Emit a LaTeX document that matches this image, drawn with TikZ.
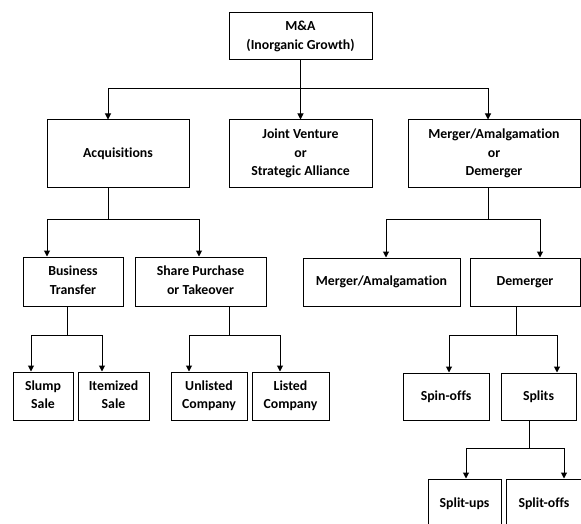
\documentclass[tikz,border=0pt]{standalone}
\usepackage{fontspec}
\setmainfont{Carlito}[Ligatures=NoCommon]
\usetikzlibrary{arrows.meta}

\tikzset{
	orgbox/.style={draw, line width=1pt, inner sep=0pt,
		font=\bfseries\fontsize{13.8}{18.4}\selectfont},
	orgarrow/.style={line width=1pt, -{Triangle[length=6pt,width=6pt]}}
}

\begin{document}
\begin{tikzpicture}[x=1pt,y=-1pt]

%%% page = reference size, 1pt = 1px, y grows downwards
\useasboundingbox (0,0) rectangle (581,524);
\clip (0,0) rectangle (581,524);

%% LEVEL 1
% M&A
\node[orgbox,minimum width=143pt,minimum height=47pt] (ma) at (300.5,36.5) {
	\begin{tabular}{c}
	M\&A \\ (Inorganic Growth)
	\end{tabular}
};

%% LEVEL 2
% ACQUISITIONS
\node[orgbox,minimum width=142pt,minimum height=67pt] (acq) at (118,153.5) {Acquisitions};

% JOINT VENTURE
\node[orgbox,minimum width=143pt,minimum height=67pt] (jv) at (300.5,153.5) {
	\begin{tabular}{c}
	Joint Venture \\ or \\ Strategic Alliance
	\end{tabular}
};

% MERGER OR DEMERGER
\node[orgbox,minimum width=172pt,minimum height=67pt] (mad) at (494,153.5) {
	\begin{tabular}{c}
	Merger/Amalgamation \\ or \\ Demerger
	\end{tabular}
};

%% LEVEL 3
% BUSINESS TRANSFER
\node[orgbox,minimum width=100pt,minimum height=49pt] (bt) at (73,281.5) {
	\begin{tabular}{c}
	Business \\ Transfer
	\end{tabular}
};

% SHARE PURCHASE
\node[orgbox,minimum width=131pt,minimum height=49pt] (sp) at (200.5,281.5) {
	\begin{tabular}{c}
	Share Purchase \\ or Takeover
	\end{tabular}
};

% MERGER
\node[orgbox,minimum width=157pt,minimum height=48pt] (mg) at (381.5,282) {Merger/Amalgamation};

% DEMERGER
\node[orgbox,minimum width=110pt,minimum height=48pt] (dem) at (525,282) {Demerger};

%% LEVEL 4
% SLUMP SALE
\node[orgbox,minimum width=60pt,minimum height=48pt] (ss) at (43,396) {
	\begin{tabular}{c}
	Slump \\ Sale
	\end{tabular}
};

% ITEMIZED SALE
\node[orgbox,minimum width=71pt,minimum height=48pt] (is) at (113.5,396) {
	\begin{tabular}{c}
	Itemized \\ Sale
	\end{tabular}
};

% UNLISTED
\node[orgbox,minimum width=76pt,minimum height=48pt] (ul) at (209,396) {
	\begin{tabular}{c}
	Unlisted \\ Company
	\end{tabular}
};

% LISTED
\node[orgbox,minimum width=77pt,minimum height=48pt] (li) at (290.5,396) {
	\begin{tabular}{c}
	Listed \\ Company
	\end{tabular}
};

% SPIN-OFFS
\node[orgbox,minimum width=86pt,minimum height=47pt] (so) at (446,396.5) {Spin-offs};

% SPLITS
\node[orgbox,minimum width=75pt,minimum height=47pt] (spl) at (538.5,396.5) {Splits};

%% LEVEL 5 - cut by the page edge
% SPLIT-UPS
\node[orgbox,minimum width=73pt,minimum height=50pt] (su) at (464.5,504) {Split-ups};

% SPLIT-OFFS
\node[orgbox,minimum width=76pt,minimum height=50pt] (sof) at (544,504) {Split-offs};

%% BARS (trunk point, left end, right end)
\coordinate (maT) at (300.5,89);  \coordinate (maL) at (108,89);   \coordinate (maR) at (488,89);
\coordinate (acqT) at (108,219);  \coordinate (acqL) at (47,219);  \coordinate (acqR) at (199,219);
\coordinate (madT) at (488,219);  \coordinate (madL) at (386,219); \coordinate (madR) at (540,219);
\coordinate (btT) at (67,335);    \coordinate (btL) at (31,335);   \coordinate (btR) at (102,335);
\coordinate (spT) at (229,335);   \coordinate (spL) at (189,335);  \coordinate (spR) at (280,335);
\coordinate (demT) at (516,335);  \coordinate (demL) at (449,335); \coordinate (demR) at (557,335);
\coordinate (splT) at (529,448);  \coordinate (splL) at (466,448); \coordinate (splR) at (564,448);

%% CONNECTORS
% M&A
\draw[orgarrow] (ma) -- (jv);
\draw[orgarrow] (ma.south -| maT) |- (maL) -- (maL |- acq.north);
\draw[orgarrow] (ma.south -| maT) |- (maR) -- (maR |- mad.north);

% Acquisitions
\draw[orgarrow] (acq.south -| acqT) |- (acqL) -- (acqL |- bt.north);
\draw[orgarrow] (acq.south -| acqT) |- (acqR) -- (acqR |- sp.north);

% Merger or Demerger
\draw[orgarrow] (mad.south -| madT) |- (madL) -- (madL |- mg.north);
\draw[orgarrow] (mad.south -| madT) |- (madR) -- (madR |- dem.north);

% Business Transfer
\draw[orgarrow] (bt.south -| btT) |- (btL) -- (btL |- ss.north);
\draw[orgarrow] (bt.south -| btT) |- (btR) -- (btR |- is.north);

% Share Purchase
\draw[orgarrow] (sp.south -| spT) |- (spL) -- (spL |- ul.north);
\draw[orgarrow] (sp.south -| spT) |- (spR) -- (spR |- li.north);

% Demerger
\draw[orgarrow] (dem.south -| demT) |- (demL) -- (demL |- so.north);
\draw[orgarrow] (dem.south -| demT) |- (demR) -- (demR |- spl.north);

% Splits
\draw[orgarrow] (spl.south -| splT) |- (splL) -- (splL |- su.north);
\draw[orgarrow] (spl.south -| splT) |- (splR) -- (splR |- sof.north);
\end{tikzpicture}
\end{document}
